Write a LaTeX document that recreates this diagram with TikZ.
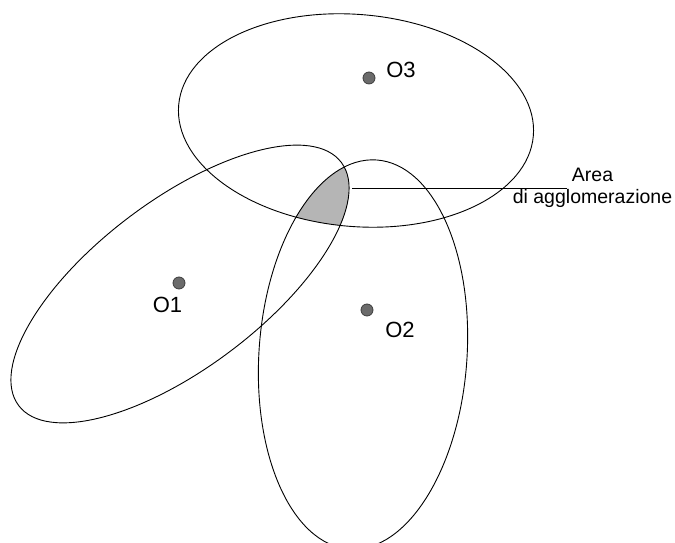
\documentclass[tikz,border=0pt]{standalone}
\usepackage{fontspec}
\setmainfont{Liberation Sans}
\usetikzlibrary{positioning}

\definecolor{zona}{gray}{0.71}
\definecolor{puntofill}{gray}{0.42}
\definecolor{puntobordo}{gray}{0.24}

\begin{document}
\begin{tikzpicture}[x=1pt, y=1pt, line width=0.9pt,
    elluno/.style={shift={(180,259)}, rotate=37},
    elldue/.style={shift={(363,188.5)}, rotate=-4},
    elltre/.style={shift={(356,422.5)}, rotate=-5},
    centro/.style={circle, draw=puntobordo, fill=puntofill, line width=0.8pt, inner sep=0pt, minimum size=12pt},
    etich/.style={font=\fontsize{22}{26}\selectfont, inner sep=1pt},
    nota/.style={font=\fontsize{19.5}{22}\selectfont, inner sep=0pt, align=center}]
    \useasboundingbox (0,0) rectangle (675,543);

    % area di agglomerazione = intersezione delle tre ellissi
    \begin{scope}
      \clip[elluno] (0,0) ellipse [x radius=202pt, y radius=84pt];
      \clip[elldue] (0,0) ellipse [x radius=104pt, y radius=195pt];
      \fill[zona, elltre] (0,0) ellipse [x radius=178pt, y radius=106pt];
    \end{scope}

    \draw[elluno] (0,0) ellipse [x radius=202pt, y radius=84pt];
    \draw[elldue] (0,0) ellipse [x radius=104pt, y radius=195pt];
    \draw[elltre] (0,0) ellipse [x radius=178pt, y radius=106pt];

    \node[centro] (p1) at (179,260) {};
    \node[centro] (p2) at (367,233) {};
    \node[centro] (p3) at (369,465) {};

    \node[etich, below=6.5pt of p1, xshift=-11.5pt] (o1) {O1};
    \node[etich, below=4.5pt of p2, xshift=33pt] (o2) {O2};
    \node[etich, right=9.5pt of p3, yshift=8.5pt] (o3) {O3};

    \node[nota, anchor=north] (area) at (592.5,375) {Area\\di agglomerazione};
    \coordinate (aggl) at (352,355);
    \coordinate (finelinea) at (567,355);
    \draw (aggl) -- (finelinea);
\end{tikzpicture}
\end{document}
